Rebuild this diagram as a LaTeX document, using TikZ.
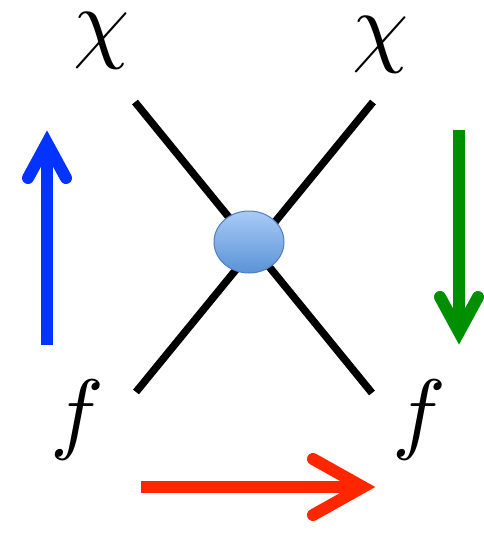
\documentclass[tikz,border=0pt]{standalone}
\usepackage{tikz}
\usetikzlibrary{calc, shapes.geometric}
\definecolor{mBlue}{HTML}{0433FF}
\definecolor{mGreen}{HTML}{008F00}
\definecolor{mRed}{HTML}{FF2600}
\definecolor{mBlobTop}{HTML}{A9CBF7}
\definecolor{mBlobBot}{HTML}{5A93D6}
\definecolor{mBlobEdge}{HTML}{4F7FBF}
\newcommand{\bigsym}[1]{\scalebox{9}{$#1$}}

\begin{document}
\begin{tikzpicture}[x=1pt, y=-1pt,
  leg/.style={line width=7.5pt},
  lbl/.style={inner sep=0pt, anchor=base},
  blob/.style={ellipse, minimum width=70pt, minimum height=62pt, inner sep=0pt,
               draw=mBlobEdge, line width=1pt, top color=mBlobTop, bottom color=mBlobBot},
  shaft/.style={line width=12pt},
  head/.style={line width=12pt, line cap=round, line join=miter},
]
  \useasboundingbox (0,0) rectangle (483,548);
  % external legs
  \coordinate (ul) at (135,102);
  \coordinate (ur) at (373,102);
  \coordinate (ll) at (136,392);
  \coordinate (lr) at (372,393);
  \draw[leg] (ul) -- (lr);
  \draw[leg] (ur) -- (ll);
  \node[blob] (vtx) at (249,242) {};
  % particle labels
  \node[lbl] (chiL) at (102,52) {\bigsym{\chi}};
  \node[lbl] (chiR) at (381,56) {\bigsym{\chi}};
  \node[lbl] (fL) at (77,442) {\bigsym{f}};
  \node[lbl] (fR) at (419,442) {\bigsym{f}};
  % channel arrows
  \coordinate (bTail) at (47,345);
  \coordinate (bTip) at (47,143);
  \draw[shaft, mBlue] (bTail) -- (bTip);
  \draw[head, mBlue] ($(bTip)+(-19,35)$) -- (bTip) -- ($(bTip)+(19,35)$);
  \coordinate (gTail) at (459,130);
  \coordinate (gTip) at (459,332);
  \draw[shaft, mGreen] (gTail) -- (gTip);
  \draw[head, mGreen] ($(gTip)+(-19,-35)$) -- (gTip) -- ($(gTip)+(19,-35)$);
  \coordinate (rTail) at (141,487);
  \coordinate (rTip) at (363,487);
  \draw[shaft, mRed] (rTail) -- (rTip);
  \draw[head, mRed] ($(rTip)+(-50,-28)$) -- (rTip) -- ($(rTip)+(-50,28)$);
\end{tikzpicture}
\end{document}
